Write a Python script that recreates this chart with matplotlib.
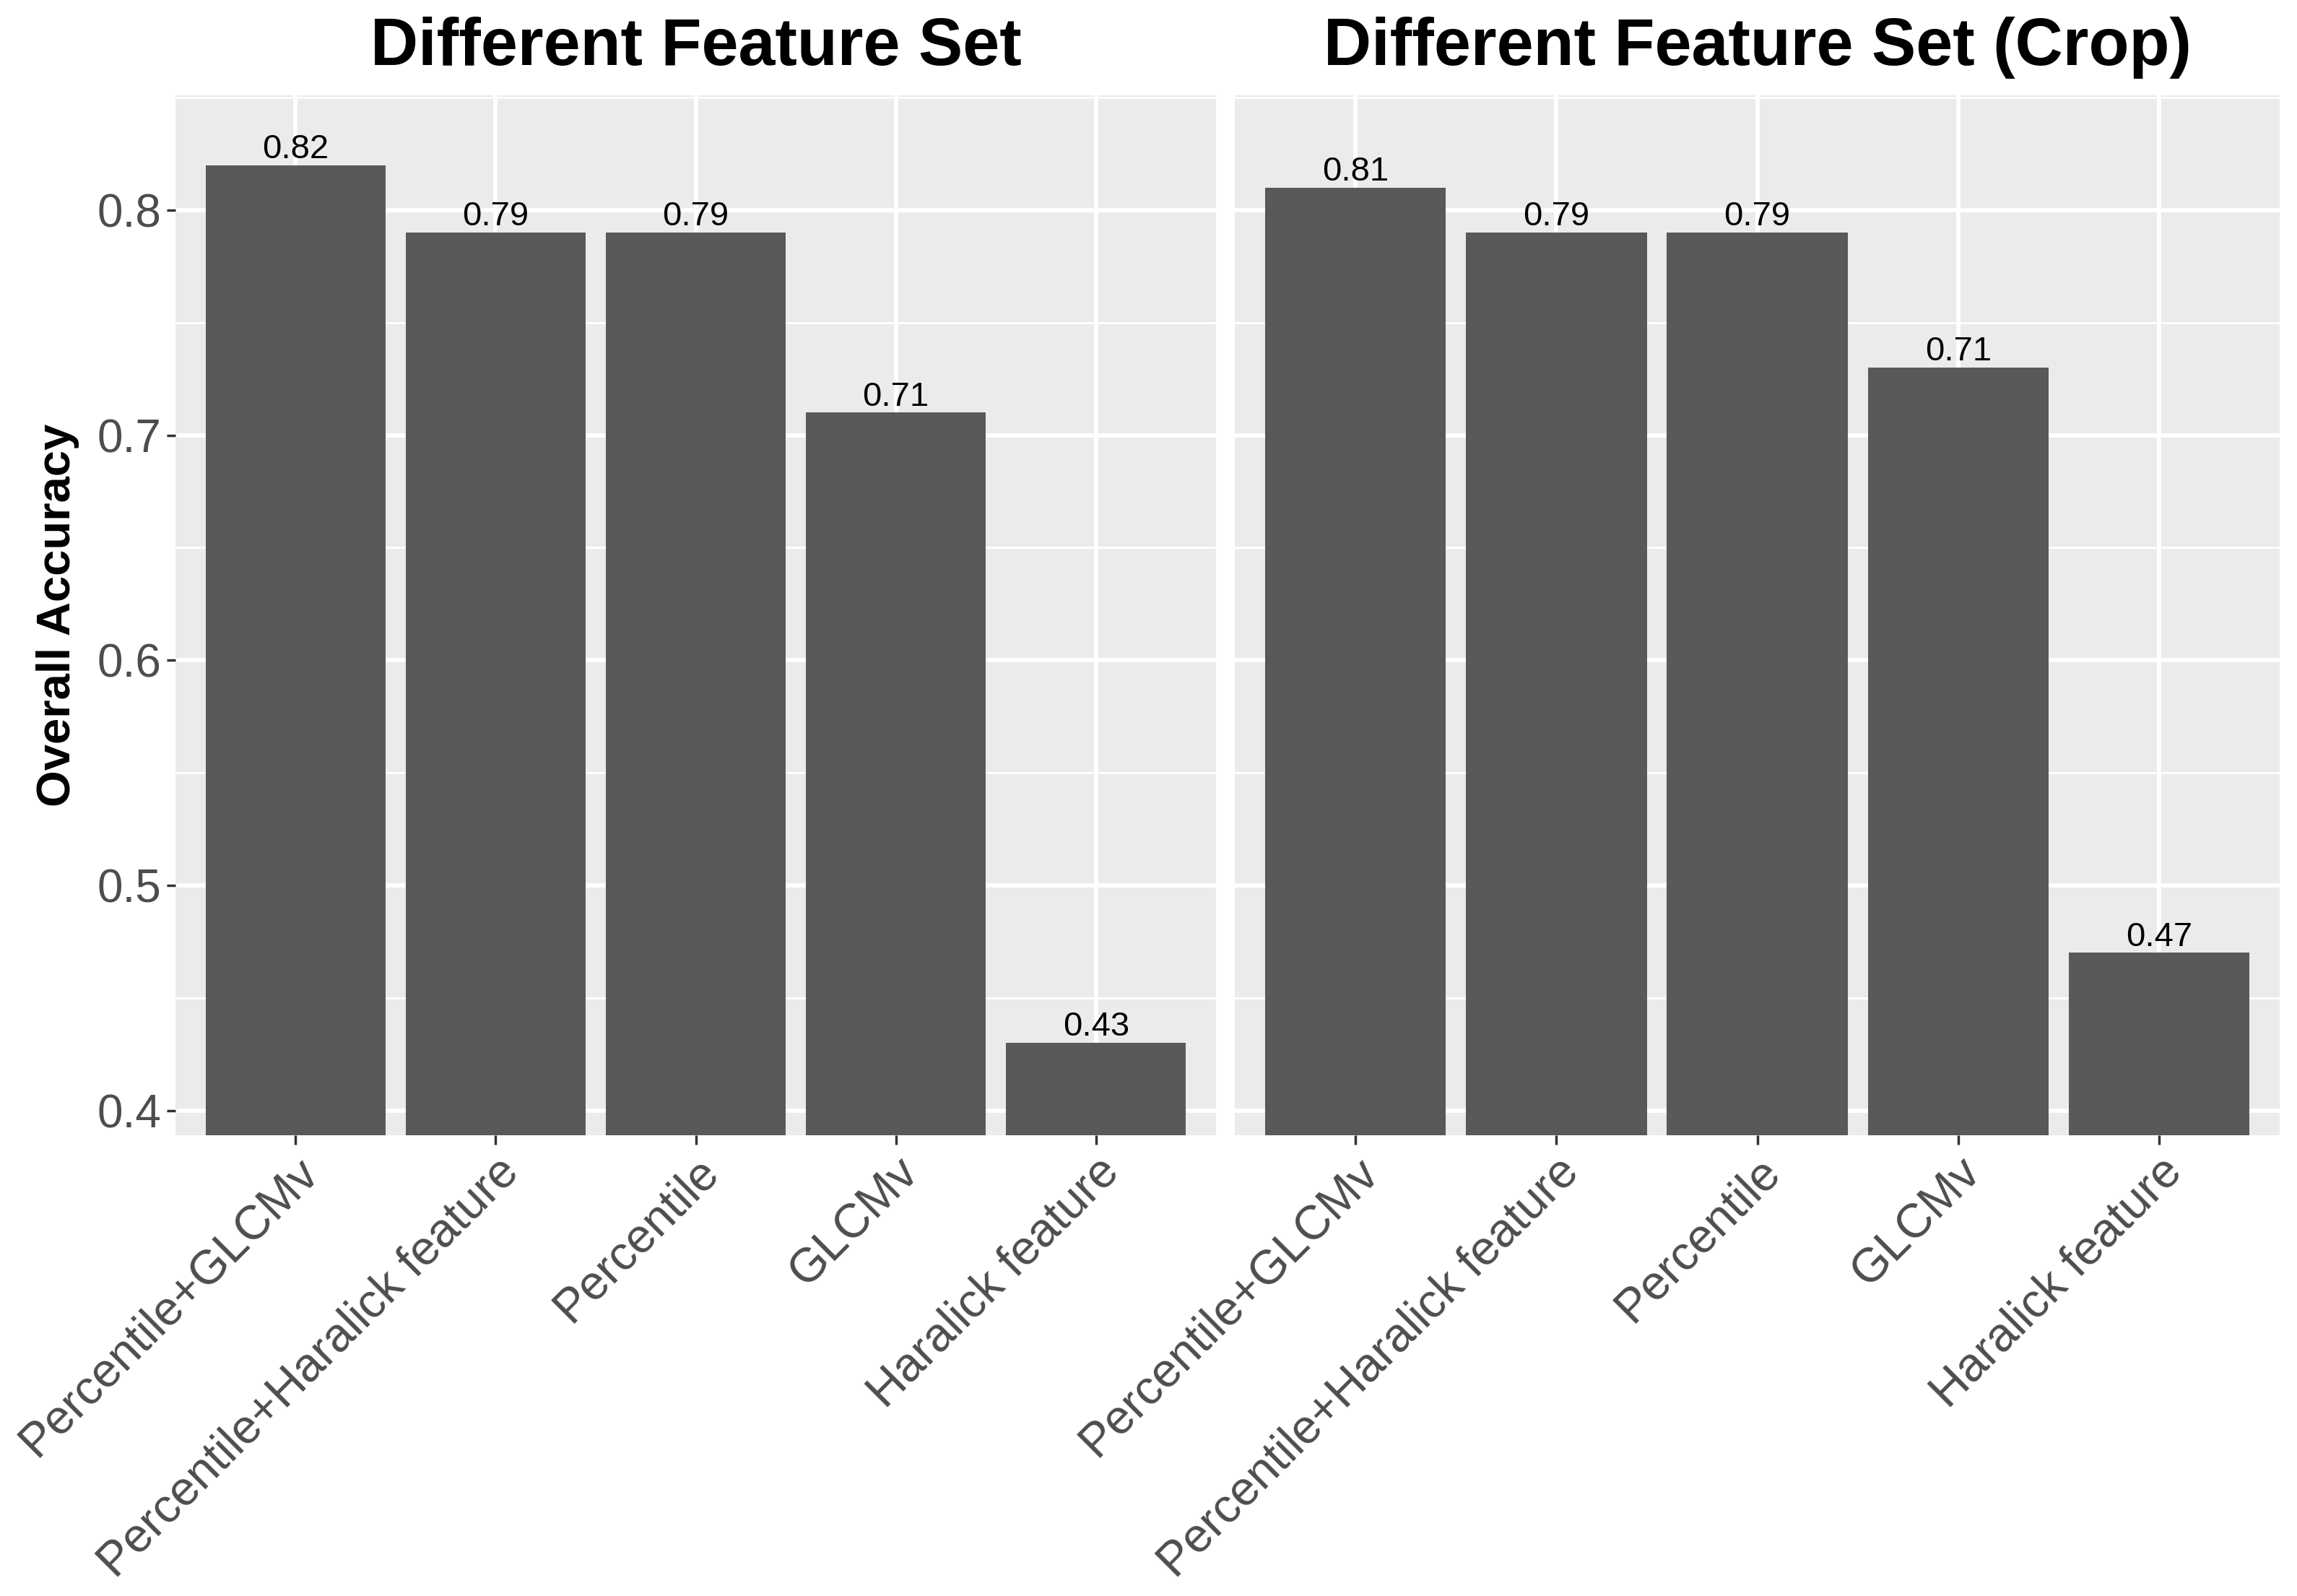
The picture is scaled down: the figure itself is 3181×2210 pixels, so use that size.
import matplotlib
matplotlib.use("Agg")
import matplotlib.pyplot as plt

plt.rcParams['font.family'] = ['Liberation Sans', 'DejaVu Sans']

# Feature sets on the x axis
categories = ["Percentile+GLCMv", "Percentile+Haralick feature", "Percentile",
              "GLCMv", "Haralick feature"]

# Overall accuracy, full image
full_acc = [0.82, 0.79, 0.79, 0.71, 0.43]
full_labels = ["0.82", "0.79", "0.79", "0.71", "0.43"]

# Overall accuracy, cropped image (GLCMv bar is drawn at 0.73 but labelled 0.71)
crop_acc = [0.81, 0.79, 0.79, 0.73, 0.47]
crop_labels = ["0.81", "0.79", "0.79", "0.71", "0.47"]

titles = ["Different Feature Set", "Different Feature Set (Crop)"]

bg = "#EBEBEB"
bar_col = "#595959"

fig = plt.figure(figsize=(31.81, 22.10), dpi=100)
ax1 = fig.add_axes([0.0764, 0.2887, 0.4530, 0.6516])
ax2 = fig.add_axes([0.5376, 0.2887, 0.4549, 0.6516])

x = list(range(1, len(categories) + 1))

for i, (ax, vals, labs, ttl) in enumerate(zip([ax1, ax2], [full_acc, crop_acc],
                                               [full_labels, crop_labels], titles)):
    ax.set_facecolor(bg)
    ax.bar(x, vals, width=0.9, color=bar_col, zorder=3)
    ax.set_xlim(0.4, 5.6)
    ax.set_ylim(0.389, 0.851)

    # grid
    ax.set_yticks([0.4, 0.5, 0.6, 0.7, 0.8])
    ax.set_yticks([0.45, 0.55, 0.65, 0.75, 0.85], minor=True)
    ax.grid(which="major", color="white", linewidth=4.2, zorder=0)
    ax.grid(which="minor", axis="y", color="white", linewidth=2.0, zorder=0)
    ax.set_axisbelow(True)

    for s in ax.spines.values():
        s.set_visible(False)

    for xi, v, lab in zip(x, vals, labs):
        ax.annotate(lab, (xi, v), xytext=(0, 7), textcoords="offset points",
                    ha="center", va="baseline", fontsize=34, color="black", zorder=4)

    ax.set_xticks(x)
    ax.set_xticklabels(categories, rotation=45, ha="right", va="top",
                       rotation_mode="anchor", fontsize=47.5, color="#4D4D4D")
    ax.tick_params(axis="x", which="major", length=9, width=2.5, color="#333333", pad=5)
    ax.tick_params(axis="y", which="minor", length=0)

    if i == 0:
        ax.set_yticklabels(["0.4", "0.5", "0.6", "0.7", "0.8"], fontsize=46, color="#4D4D4D")
        ax.tick_params(axis="y", which="major", length=9, width=2.5, color="#333333", pad=5)
        ax.set_ylabel("Overall Accuracy", fontsize=47, fontweight="bold", labelpad=18)
    else:
        ax.tick_params(axis="y", which="major", length=0, labelleft=False)

    ax.set_title(ttl, fontsize=66, fontweight="bold", pad=30)

fig.savefig("out.png", dpi=100)
